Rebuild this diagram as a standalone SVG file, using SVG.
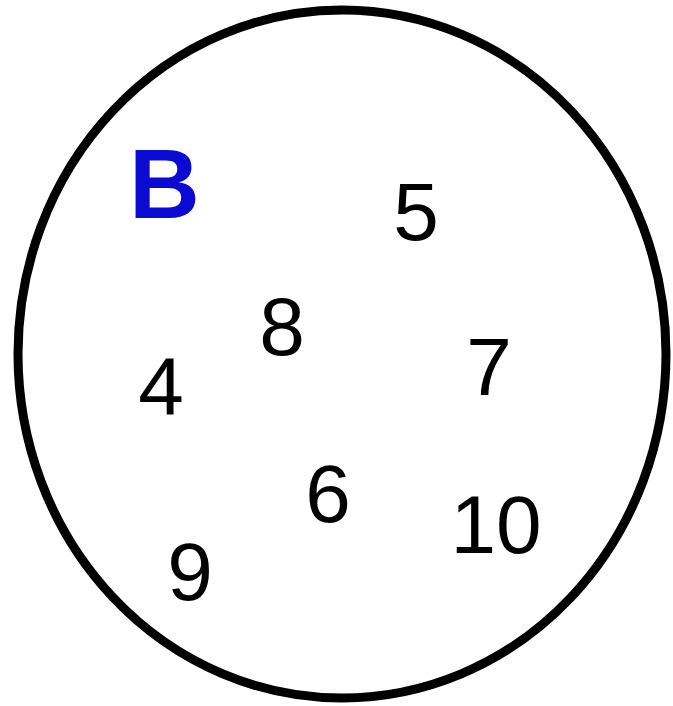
<svg xmlns="http://www.w3.org/2000/svg" width="673" height="706" viewBox="0 0 673 706">
<style>
.n{font-family:"Liberation Sans",Arial,sans-serif;font-size:82px;fill:#000;text-anchor:middle}
.b{font-family:"Liberation Sans",Arial,sans-serif;font-size:98px;font-weight:bold;fill:#0a0ad2}
</style>
<rect width="673" height="706" fill="#fff"/>
<g id="set-B">
<ellipse cx="342" cy="354" rx="324" ry="344" fill="none" stroke="#000" stroke-width="9"/>
<text class="b" x="129" y="218">B</text>
</g>
<g id="n5"><text class="n" x="416" y="240">5</text></g>
<g id="n8"><text class="n" x="282" y="355">8</text></g>
<g id="n4"><text class="n" x="161" y="415">4</text></g>
<g id="n7"><text class="n" x="489" y="395">7</text></g>
<g id="n6"><text class="n" x="328" y="522">6</text></g>
<g id="n10"><text class="n" x="496" y="553">10</text></g>
<g id="n9"><text class="n" x="190" y="600">9</text></g>
<g id="connectors"/>
</svg>
